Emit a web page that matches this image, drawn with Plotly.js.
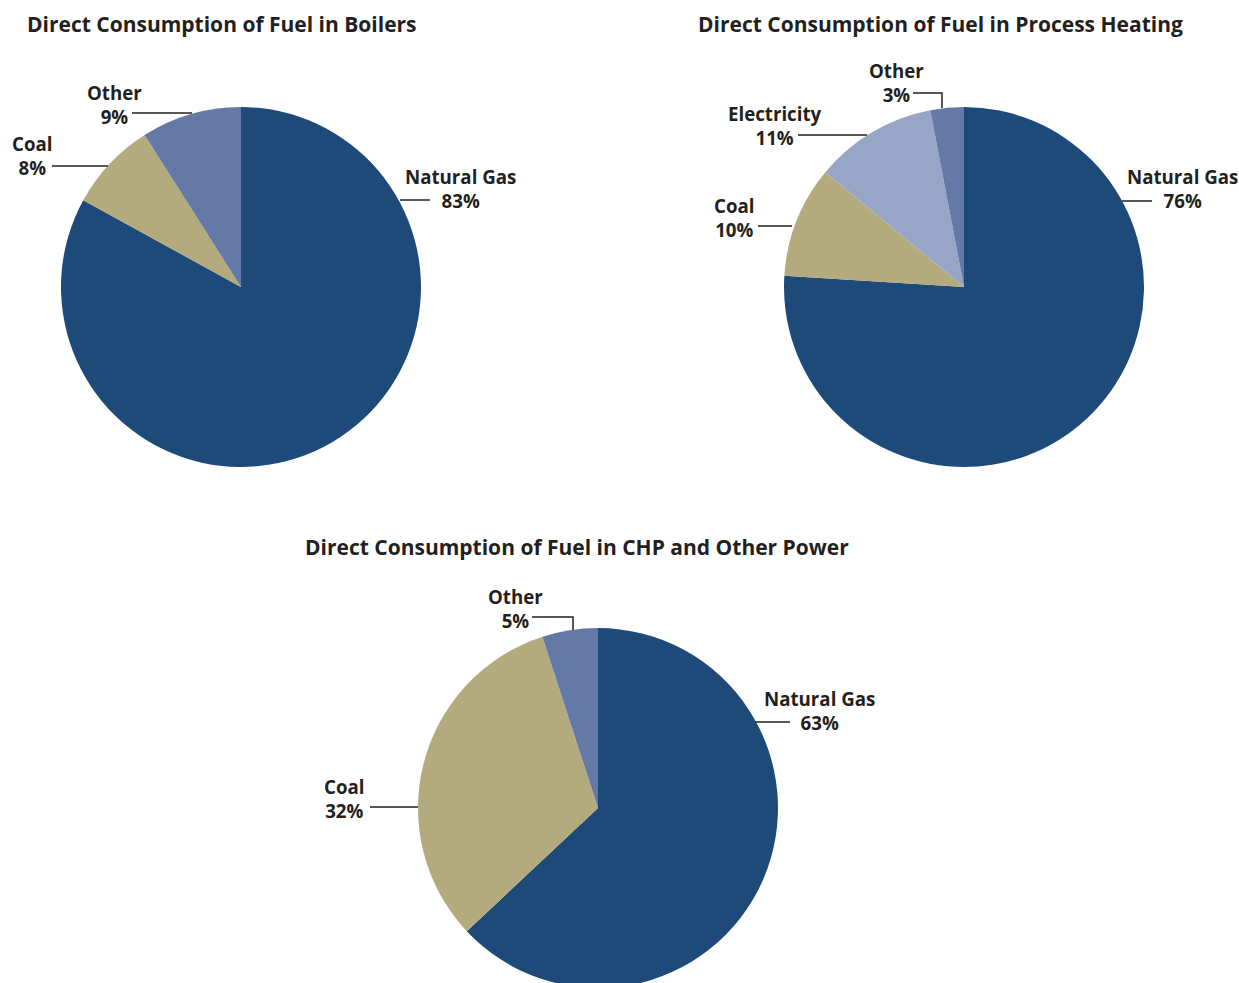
<!DOCTYPE html>
<html>
<head>
<meta charset="utf-8">
<script src="https://cdn.plot.ly/plotly-3.0.1.min.js"></script>
<style>
html,body{margin:0;padding:0;overflow:hidden;background:#fff;}
#chart{width:1239px;height:988px;}
</style>
</head>
<body>
<div id="chart"></div>
<script>
// ---- Data ----
const boilersLabels = ["Natural Gas", "Coal", "Other"];
const boilersValues = [83, 8, 9];

const processLabels = ["Natural Gas", "Coal", "Electricity", "Other"];
const processValues = [76, 10, 11, 3];

const chpLabels = ["Natural Gas", "Coal", "Other"];
const chpValues = [63, 32, 5];

const titles = [
  "Direct Consumption of Fuel in Boilers",
  "Direct Consumption of Fuel in Process Heating",
  "Direct Consumption of Fuel in CHP and Other Power"
];

// ---- Styling ----
const W = 1239, H = 988;
const colorMap = {
  "Natural Gas": "#1e4a7a",
  "Coal": "#b3aa7e",
  "Other": "#6479a5",
  "Electricity": "#97a6c6"
};
const FONT = "'Open Sans', Lato, sans-serif";
const TXT = "#231f20";
const px = x => x / W;
const py = y => 1 - y / H;

function pieTrace(labels, values, box) {
  return {
    type: "pie",
    labels: labels,
    values: values,
    sort: false,
    direction: "clockwise",
    rotation: 0,
    textinfo: "none",
    hoverinfo: "label+percent",
    showlegend: false,
    marker: { colors: labels.map(l => colorMap[l]), line: { width: 0 } },
    domain: { x: [px(box.l), px(box.r)], y: [py(box.b), py(box.t)] }
  };
}

const traces = [
  pieTrace(boilersLabels, boilersValues, { l: 61, r: 421, t: 107, b: 467 }),
  pieTrace(processLabels, processValues, { l: 784, r: 1144, t: 107, b: 467 }),
  pieTrace(chpLabels, chpValues, { l: 418, r: 778, t: 628, b: 988 })
];

function pctText(labels, values, name) {
  return values[labels.indexOf(name)] + "%";
}

// label placements (center of the two-line block)
const labelSpecs = [
  { lab: boilersLabels, val: boilersValues, name: "Natural Gas", x: 460, y: 188 },
  { lab: boilersLabels, val: boilersValues, name: "Coal", x: 32, y: 155 },
  { lab: boilersLabels, val: boilersValues, name: "Other", x: 114, y: 104 },
  { lab: processLabels, val: processValues, name: "Natural Gas", x: 1182, y: 188 },
  { lab: processLabels, val: processValues, name: "Coal", x: 734, y: 217 },
  { lab: processLabels, val: processValues, name: "Electricity", x: 775, y: 125 },
  { lab: processLabels, val: processValues, name: "Other", x: 896, y: 83 },
  { lab: chpLabels, val: chpValues, name: "Natural Gas", x: 819, y: 710 },
  { lab: chpLabels, val: chpValues, name: "Coal", x: 344, y: 798 },
  { lab: chpLabels, val: chpValues, name: "Other", x: 515, y: 608 }
];

const annotations = labelSpecs.map(s => ({
  xref: "paper", yref: "paper",
  x: px(s.x), y: py(s.y),
  xanchor: "center", yanchor: "middle",
  text: s.name + "<br>" + pctText(s.lab, s.val, s.name),
  showarrow: false, align: "center",
  font: { family: FONT, size: 18.7, color: TXT, weight: "bold" }
}));

const titleSpecs = [
  { x: 25, y: 24 },
  { x: 696, y: 24 },
  { x: 303, y: 547 }
];
titleSpecs.forEach((t, i) => annotations.push({
  xref: "paper", yref: "paper",
  x: px(t.x), y: py(t.y),
  xanchor: "left", yanchor: "middle",
  text: titles[i], showarrow: false,
  font: { family: FONT, size: 21, color: TXT, weight: "bold" }
}));

// leader lines (polyline paths in pixel space)
const leaders = [
  [[400, 200], [430, 200]],
  [[52, 166], [108, 166]],
  [[132, 113], [192, 113]],
  [[1122, 201], [1152, 201]],
  [[758, 226], [792, 226]],
  [[798, 135], [867, 135]],
  [[913, 93], [942, 93], [942, 108]],
  [[755, 722], [790, 722]],
  [[370, 807], [418, 807]],
  [[532, 617], [573, 617], [573, 630]]
];
const shapes = leaders.map(pts => ({
  type: "path", xref: "paper", yref: "paper",
  path: pts.map((p, i) => (i ? "L" : "M") + px(p[0]) + "," + py(p[1])).join(" "),
  line: { color: "#231f20", width: 1.5 }
}));

const layout = {
  width: W, height: H,
  margin: { l: 0, r: 0, t: 0, b: 0 },
  paper_bgcolor: "#ffffff",
  plot_bgcolor: "#ffffff",
  annotations: annotations,
  shapes: shapes,
  showlegend: false
};

Plotly.newPlot("chart", traces, layout, { displayModeBar: false, staticPlot: true });
</script>
</body>
</html>
